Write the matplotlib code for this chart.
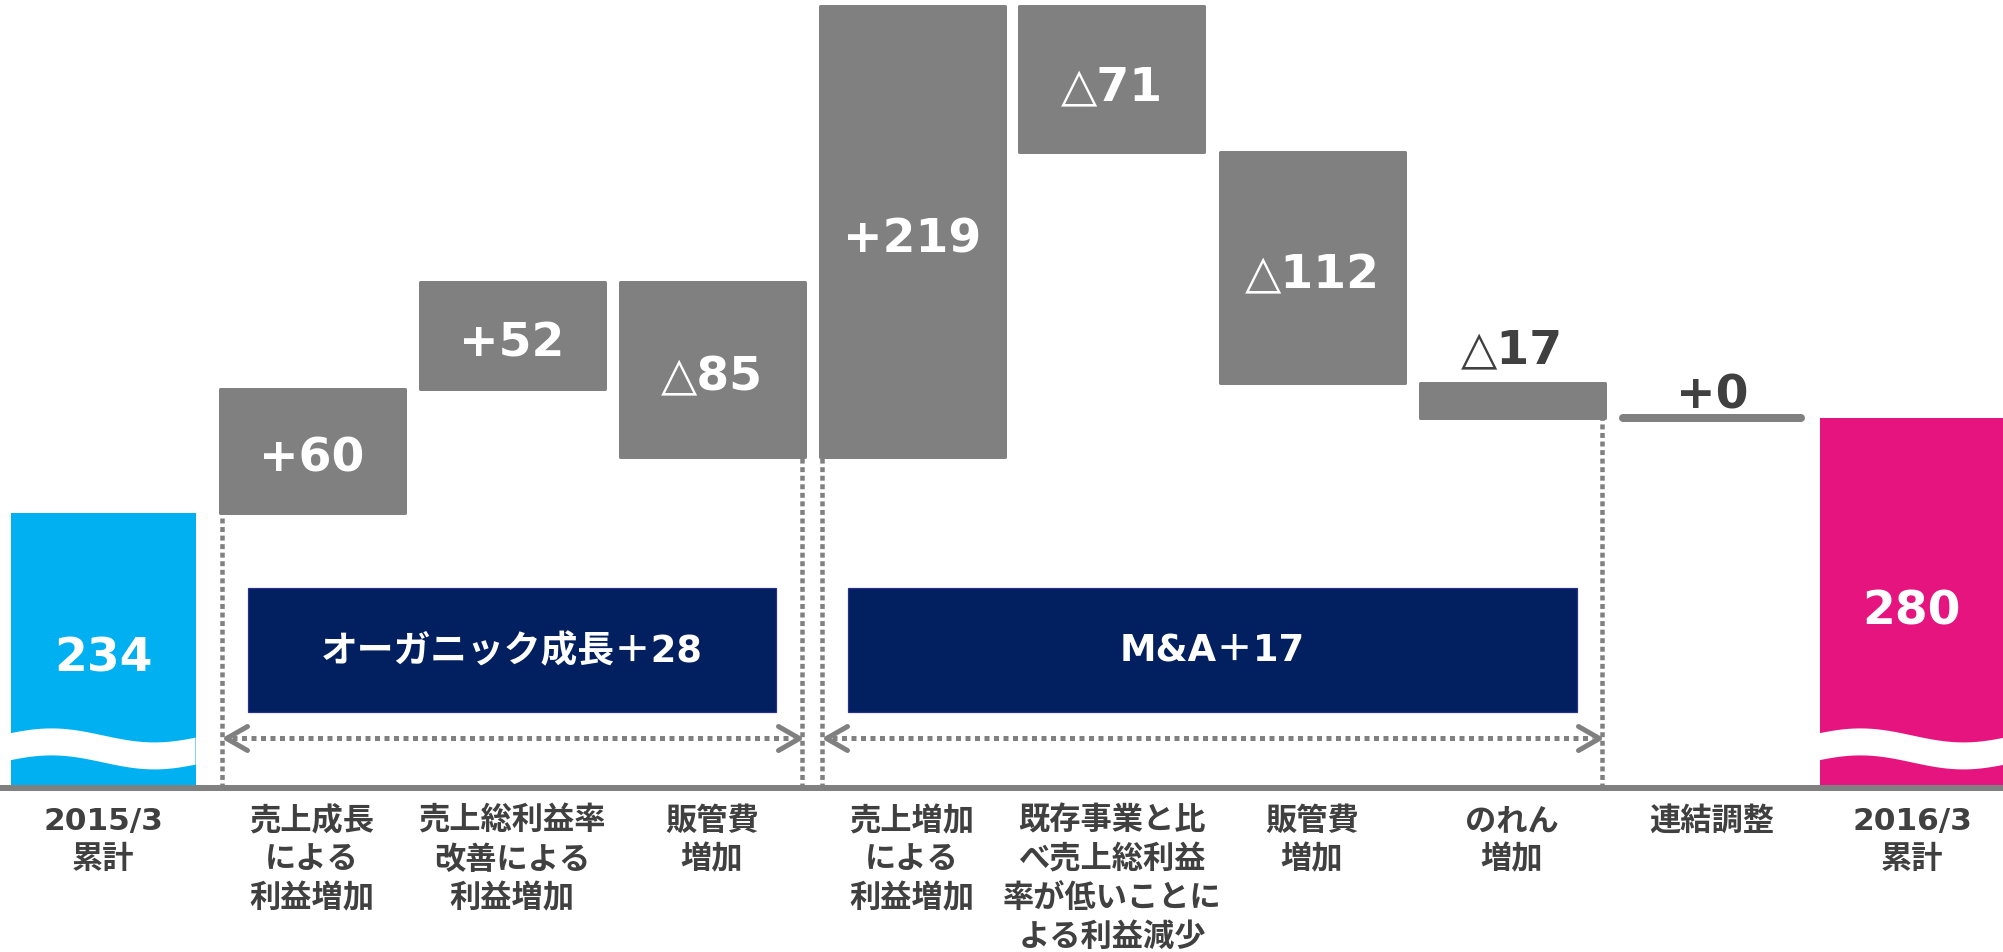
import numpy as np
import matplotlib
matplotlib.use("Agg")
import matplotlib.pyplot as plt
import matplotlib.transforms as mtransforms
from matplotlib.path import Path
from matplotlib.markers import MarkerStyle
from matplotlib.patches import Rectangle, Polygon

plt.rcParams['font.family'] = ['DejaVu Sans', 'Noto Sans CJK JP']

# ---- data -------------------------------------------------------------
categories = [
    "2015/3\n累計",
    "売上成長\nによる\n利益増加",
    "売上総利益率\n改善による\n利益増加",
    "販管費\n増加",
    "売上増加\nによる\n利益増加",
    "既存事業と比\nべ売上総利益\n率が低いことに\nよる利益減少",
    "販管費\n増加",
    "のれん\n増加",
    "連結調整",
    "2016/3\n累計",
]
start_total = 234
end_total = 280
deltas = [60, 52, -85, 219, -71, -112, -17, 0]
group_names = ["オーガニック成長", "M&A"]
group_totals = [28, 17]
group_steps = [(1, 3), (4, 7)]   # first / last category index of each group

# ---- style ------------------------------------------------------------
BLUE = "#00B0F0"
PINK = "#E6147E"
GREY = "#808080"
NAVY = "#022060"
DARK = "#404040"

W_PX, H_PX = 2003, 953
XLIM = (-0.56, 9.455)
YLIM = (20.55, 483.4)
FLOOR = 100            # value at which the broken axis is cut
BAR_W = 0.925

fig = plt.figure(figsize=(W_PX / 100, H_PX / 100), dpi=100)
ax = fig.add_axes([0, 0, 1, 1])
ax.set_xlim(*XLIM)
ax.set_ylim(*YLIM)
ax.axis('off')

sx = W_PX / (XLIM[1] - XLIM[0])     # pixels per x unit
sy = H_PX / (YLIM[1] - YLIM[0])     # pixels per value unit


def pt(px):
    return px * 72 / 100


n = len(categories)
x = np.arange(n, dtype=float)
x[0] -= 0.045                       # opening total sits a touch further left
levels = start_total + np.cumsum(deltas)
prev = np.concatenate([[start_total], levels[:-1]])

LABEL_DROP = -20                    # baseline offset that centres digits


def fmt(d):
    return f"+{d}" if d >= 0 else f"△{-d}"


# ---- baseline ---------------------------------------------------------
ax.axhline(FLOOR, color=GREY, lw=pt(6), zorder=3)

# ---- total bars with axis-break waves --------------------------------
for xi, tot, col in [(x[0], start_total, BLUE), (x[-1], end_total, PINK)]:
    ax.bar(xi, tot - FLOOR, bottom=FLOOR, width=BAR_W, color=col,
           linewidth=0, zorder=2)
    left = xi - BAR_W / 2
    xr = np.linspace(0, BAR_W * sx, 120)
    upper = 53 + 7 * np.cos(2 * np.pi * (xr - 41) / 206)
    lower = upper - 27
    xs = left + xr / sx
    poly = np.concatenate([
        np.column_stack([xs, FLOOR + upper / sy]),
        np.column_stack([xs[::-1], FLOOR + lower[::-1] / sy]),
    ])
    ax.add_patch(Polygon(poly, closed=True, facecolor='white',
                         edgecolor='none', zorder=2.5))
    ax.annotate(str(tot), (xi, (tot + FLOOR) / 2), xytext=(0, LABEL_DROP),
                textcoords='offset pixels', ha='center', va='baseline',
                fontsize=34, fontweight='bold', color='white', zorder=4)

# ---- step bars --------------------------------------------------------
for i, d in enumerate(deltas):
    xi = x[i + 1]
    lo, hi = min(prev[i], levels[i]), max(prev[i], levels[i])
    if d != 0:
        ax.bar(xi, hi - lo, bottom=lo, width=BAR_W, color=GREY,
               edgecolor=GREY, linewidth=pt(3), joinstyle='round', zorder=2)
    else:
        ax.plot([xi - BAR_W / 2 + 4 / sx, xi + BAR_W / 2 - 4 / sx],
                [levels[i], levels[i]], color=GREY, lw=pt(8),
                solid_capstyle='round', zorder=2)
    if (hi - lo) * sy > 60:
        ax.annotate(fmt(d), (xi, (lo + hi) / 2), xytext=(0, LABEL_DROP),
                    textcoords='offset pixels', ha='center', va='baseline',
                    fontsize=34, fontweight='bold', color='white', zorder=4)
    else:
        gap = 20 if d != 0 else 10
        ax.annotate(fmt(d), (xi, hi), xytext=(0, gap),
                    textcoords='offset pixels', ha='center', va='baseline',
                    fontsize=34, fontweight='bold', color=DARK, zorder=4)

# ---- group brackets ---------------------------------------------------
dot_v = (0, (1.1, 0.8))
chev_l = MarkerStyle(Path([(1.75, 1.0), (0, 0), (1.75, -1.0)],
                          [Path.MOVETO, Path.LINETO, Path.LINETO]),
                     capstyle='round', joinstyle='round')
chev_r = MarkerStyle(Path([(-1.75, 1.0), (0, 0), (-1.75, -1.0)],
                          [Path.MOVETO, Path.LINETO, Path.LINETO]),
                     capstyle='round', joinstyle='round')
arrow_y = FLOOR + 50 / sy
box_lo, box_hi = FLOOR + 76 / sy, FLOOR + 200 / sy

for (a, b), name, tot in zip(group_steps, group_names, group_totals):
    xl = x[a] - BAR_W / 2 + 2.5 / sx
    xrgt = x[b] + BAR_W / 2 - 2.5 / sx
    top_l = min(prev[a - 1], levels[a - 1])
    top_r = min(prev[b - 1], levels[b - 1])
    ax.plot([xl, xl], [FLOOR, top_l], color=GREY, lw=pt(4.5),
            linestyle=dot_v, dash_capstyle='butt', zorder=1)
    ax.plot([xrgt, xrgt], [FLOOR, top_r], color=GREY, lw=pt(4.5),
            linestyle=dot_v, dash_capstyle='butt', zorder=1)

    tip_l, tip_r = xl + 4 / sx, xrgt - 3 / sx
    ax.plot([tip_l + 6 / sx, tip_r - 6 / sx], [arrow_y, arrow_y], color=GREY,
            lw=pt(5), linestyle=(0, (1.0, 0.9)), dash_capstyle='butt', zorder=1)
    ax.plot([tip_l], [arrow_y], marker=chev_l, ms=pt(42), mew=pt(5),
            mfc='none', mec=GREY, linestyle='none', zorder=1)
    ax.plot([tip_r], [arrow_y], marker=chev_r, ms=pt(42), mew=pt(5),
            mfc='none', mec=GREY, linestyle='none', zorder=1)

    bx0 = x[a] - BAR_W / 2 + 0.14
    bx1 = x[b] + BAR_W / 2 - 0.14
    ax.add_patch(Rectangle((bx0, box_lo), bx1 - bx0, box_hi - box_lo,
                           facecolor=NAVY, edgecolor='#2B2F8F', lw=pt(1.2),
                           zorder=2))
    ax.text((bx0 + bx1) / 2, (box_lo + box_hi) / 2, f"{name}＋{tot}",
            ha='center', va='center', fontsize=26.5, fontweight='bold',
            color='white', zorder=3)

# ---- category labels --------------------------------------------------
blend = mtransforms.blended_transform_factory(ax.transData, ax.transAxes)
for xi, lab in zip(x, categories):
    for k, line in enumerate(lab.split("\n")):
        y_px = 830 + 38.5 * k
        ax.text(xi, 1 - y_px / H_PX, line, transform=blend, ha='center',
                va='baseline', fontsize=22.5, fontweight='bold', color=DARK)

fig.savefig("out.png", dpi=100)
